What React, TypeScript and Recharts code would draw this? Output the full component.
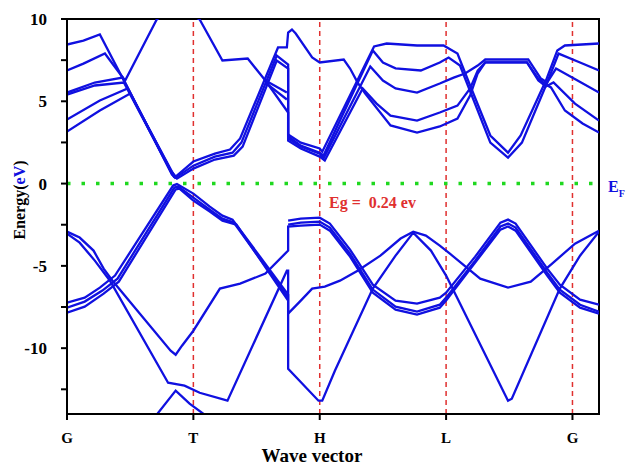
// Band structure along G-T-H-L-G, energy relative to the Fermi level

import React from 'react';
import { LineChart, Line, XAxis, YAxis, ReferenceLine, ReferenceArea } from 'recharts';

// ── data: [k, E(eV)] ──

const K_MAX = 4.21;
const E_MIN = -14;
const E_MAX = 10;

const kTicks = [0, 1, 2, 3, 4];
const kLabels = ['G', 'T', 'H', 'L', 'G'];
const eTicks = [-12.5, -10, -7.5, -5, -2.5, 0, 2.5, 5, 7.5, 10];
const symLines = [1, 2, 3, 4];

// conduction bands
const c1 = [[0, 8.45], [0.13, 8.69], [0.26, 9.06], [0.82, 0.79], [0.86, 0.43], [1.0, 1.34], [1.17, 1.82], [1.29, 2.07], [1.37, 2.74], [1.67, 8.27], [1.74, 8.27], [1.75, 9.18], [1.78, 9.36], [1.81, 9.12], [1.94, 7.66], [2.0, 7.36], [2.19, 7.54], [2.24, 6.99], [2.30, 6.14], [2.36, 5.47], [2.56, 3.53], [2.77, 3.10], [2.95, 3.47], [3.09, 3.95], [3.19, 5.35], [3.25, 6.69], [3.31, 7.36], [3.64, 7.36], [3.73, 6.38], [3.79, 6.02], [3.83, 5.84], [3.94, 4.44], [4.08, 3.65], [4.21, 3.10]];
const c2 = [[0, 6.87], [0.13, 7.29], [0.30, 7.90], [0.40, 6.87], [0.46, 6.26], [0.71, 9.97], [0.86, 10.82], [1.05, 9.97], [1.23, 7.48], [1.43, 7.60], [1.57, 6.26], [1.75, 4.32], [1.75, 2.86], [1.85, 2.31], [2.0, 1.88], [2.03, 1.70], [2.42, 8.09], [2.50, 7.36], [2.60, 7.0], [2.80, 6.87], [2.95, 7.36], [3.02, 7.66], [3.11, 7.17], [3.35, 2.49], [3.49, 1.58], [3.60, 2.49], [3.80, 6.14], [3.89, 7.90], [4.06, 7.36], [4.21, 6.87]];
const c3 = [[0, 5.53], [0.22, 6.14], [0.44, 6.44], [0.83, 0.55], [0.86, 0.36], [1.0, 1.09], [1.17, 1.64], [1.31, 1.88], [1.38, 2.49], [1.66, 7.78], [1.75, 7.23], [1.75, 2.74], [1.85, 2.25], [2.0, 1.82], [2.03, 1.52], [2.40, 7.11], [2.50, 6.26], [2.60, 5.78], [2.77, 5.53], [2.95, 6.08], [3.06, 6.44], [3.15, 6.69], [3.25, 7.17], [3.31, 7.54], [3.65, 7.54], [3.75, 6.38], [3.80, 6.14], [3.87, 6.99], [4.04, 6.26], [4.21, 5.53]];
const c4 = [[0, 5.41], [0.22, 5.96], [0.45, 6.14], [0.84, 0.49], [0.87, 0.30], [1.0, 0.91], [1.17, 1.46], [1.32, 1.70], [1.39, 2.25], [1.66, 7.48], [1.75, 6.99], [1.75, 2.61], [1.85, 2.13], [2.0, 1.64], [2.04, 1.40], [2.34, 5.78], [2.45, 4.86], [2.56, 4.13], [2.77, 3.83], [2.95, 4.32], [3.09, 4.74], [3.19, 5.78], [3.25, 6.87], [3.31, 7.36], [3.64, 7.36], [3.73, 6.26], [3.79, 5.90], [3.85, 6.14], [4.02, 4.86], [4.21, 3.83]];
const c5 = [[0, 3.89], [0.26, 5.05], [0.48, 5.78], [0.85, 0.36]];
const c6 = [[0, 3.16], [0.26, 4.44], [0.50, 5.47], [0.86, 0.30]];
const c7 = [[1.75, 2.98], [1.85, 2.49], [2.0, 2.13], [2.02, 1.94], [2.43, 8.33], [2.53, 8.51], [2.77, 8.39], [2.98, 8.39], [3.09, 7.90], [3.19, 5.96], [3.35, 2.92], [3.49, 1.88], [3.59, 2.92], [3.79, 6.26], [3.88, 8.09], [3.94, 8.39], [4.21, 8.51]];
const x1 = [[1.57, 6.26], [1.74, 5.53]];
const x2 = [[1.57, 6.14], [1.74, 5.11]];

// valence bands
const t1 = [[0, -7.23], [0.14, -6.93], [0.26, -6.32], [0.38, -5.59], [0.84, -0.12], [0.87, -0.03], [1.0, -0.61], [1.13, -1.40], [1.23, -1.95], [1.31, -2.19], [1.75, -6.75], [1.75, -7.90], [1.85, -7.11], [1.94, -6.38], [2.04, -6.26], [2.16, -5.90], [2.30, -5.29], [2.48, -4.38], [2.64, -3.34], [2.74, -2.92], [2.84, -3.16], [2.95, -3.77], [3.03, -4.26], [3.27, -5.78], [3.49, -6.32], [3.67, -5.96], [3.83, -4.92], [4.02, -3.65], [4.21, -2.86]];
const t2 = [[0, -7.54], [0.14, -7.17], [0.28, -6.50], [0.40, -5.78], [0.85, -0.24], [0.88, -0.18], [1.0, -0.85], [1.13, -1.58], [1.23, -2.13], [1.32, -2.37], [1.75, -6.93]];
const t3 = [[0, -7.84], [0.14, -7.48], [0.29, -6.69], [0.41, -5.96], [0.86, -0.36], [0.89, -0.30], [1.0, -1.03], [1.13, -1.70], [1.23, -2.25], [1.34, -2.49], [1.75, -7.11]];
const h2 = [[1.75, -2.25], [1.85, -2.13], [2.0, -2.07], [2.08, -2.43], [2.24, -4.01], [2.42, -6.14], [2.60, -7.11], [2.77, -7.29], [2.95, -6.93], [3.0, -6.63], [3.23, -4.44], [3.43, -2.37], [3.49, -2.19], [3.55, -2.43], [3.80, -5.17], [3.90, -6.14], [4.06, -7.05], [4.21, -7.36]];
const h3 = [[1.75, -2.49], [1.85, -2.37], [2.0, -2.31], [2.08, -2.67], [2.24, -4.26], [2.42, -6.44], [2.60, -7.48], [2.77, -7.78], [2.95, -7.36], [3.0, -6.93], [3.23, -4.68], [3.43, -2.61], [3.49, -2.43], [3.55, -2.67], [3.80, -5.41], [3.90, -6.44], [4.06, -7.36], [4.21, -7.78]];
const va = [[0, -2.92], [0.10, -3.28], [0.21, -4.07], [0.29, -5.17], [0.36, -5.90], [0.82, -10.15], [0.86, -10.40], [0.91, -9.85], [1.0, -8.94], [1.21, -6.38], [1.37, -6.08], [1.57, -5.47], [1.75, -4.07], [1.75, -2.61], [1.85, -2.55], [2.0, -2.49], [2.08, -2.86], [2.24, -4.44], [2.42, -6.63], [2.60, -7.66], [2.77, -7.96], [2.95, -7.54], [3.0, -7.11], [3.23, -4.80], [3.43, -2.80], [3.49, -2.61], [3.55, -2.86], [3.80, -5.59], [3.90, -6.63], [4.06, -7.54], [4.21, -7.90]];
const vb = [[0, -3.04], [0.10, -3.59], [0.22, -4.68], [0.34, -5.90], [0.80, -12.10], [0.93, -12.28], [1.05, -12.71], [1.27, -13.19], [1.74, -5.29], [1.75, -5.29], [1.75, -11.25], [1.99, -13.19], [2.02, -13.19], [2.12, -11.37], [2.42, -6.38], [2.60, -4.38], [2.74, -2.98], [2.88, -4.07], [3.0, -5.59], [3.11, -7.29], [3.49, -13.19], [3.52, -13.07], [3.90, -6.38], [4.06, -4.38], [4.21, -2.92]];
const vc = [[0.66, -14.6], [0.71, -14.04], [0.86, -12.58], [0.97, -13.37], [1.17, -14.5], [1.20, -14.8]];

const bands = [c1, c2, c3, c4, c5, c6, c7, x1, x2, t1, t2, t3, h2, h3, va, vb, vc];

// ── style ──

const FONT = '"Liberation Serif", "Times New Roman", serif';
const BLUE = '#1010e0';
const RED = '#e0302f';

const toRows = (b: number[][]) => b.map(([k, e]) => ({ k, e }));

export default function App(): React.JSX.Element {
  return (
    <div style={{ position: 'absolute', left: 0, top: 0, width: 627, height: 465, background: '#fff' }}>
      <LineChart width={627} height={465} margin={{ top: 19, right: 28, bottom: 21, left: 0 }}>
        <XAxis
          type="number"
          dataKey="k"
          domain={[0, K_MAX]}
          ticks={kTicks}
          interval={0}
          tickFormatter={(v: number) => kLabels[v] ?? ''}
          tick={{ fill: '#000', fontSize: 15, fontWeight: 'bold', fontFamily: FONT }}
          tickSize={6}
          tickMargin={12}
          axisLine={{ stroke: '#000', strokeWidth: 2 }}
          tickLine={{ stroke: '#000', strokeWidth: 2 }}
          height={30}
          allowDataOverflow
        />
        <YAxis
          type="number"
          domain={[E_MIN, E_MAX]}
          ticks={eTicks}
          interval={0}
          tickFormatter={(v: number) => (v % 5 === 0 ? String(v) : '')}
          tick={{ fill: '#000', fontSize: 17, fontWeight: 'bold', fontFamily: FONT }}
          tickSize={6}
          tickMargin={14}
          axisLine={{ stroke: '#000', strokeWidth: 2 }}
          tickLine={{ stroke: '#000', strokeWidth: 2 }}
          width={67}
          allowDataOverflow
        />
        {symLines.map((k) => (
          <ReferenceLine key={k} x={k} stroke={RED} strokeWidth={1.5} strokeDasharray="5 4" />
        ))}
        <ReferenceLine y={0} stroke="#1fd81f" strokeWidth={3.5} strokeDasharray="3.5 11" />
        {bands.map((b, i) => (
          <Line
            key={i}
            data={toRows(b)}
            dataKey="e"
            type="linear"
            stroke={BLUE}
            strokeWidth={2.3}
            dot={false}
            activeDot={false}
            isAnimationActive={false}
          />
        ))}
        <ReferenceArea x1={0} x2={K_MAX} y1={E_MIN} y2={E_MAX} fill="none" stroke="#000" strokeWidth={2} ifOverflow="visible" />
      </LineChart>

      {/* axis titles and annotations */}
      <div
        style={{
          position: 'absolute', left: 20, top: 200, transform: 'translate(-50%, -50%) rotate(-90deg)',
          fontFamily: FONT, fontWeight: 'bold', fontSize: 16, lineHeight: 1, whiteSpace: 'nowrap', color: '#000',
        }}
      >
        Energy(<span style={{ color: BLUE }}>eV</span>)
      </div>
      <div
        style={{
          position: 'absolute', left: 312, top: 455, transform: 'translate(-50%, -50%)',
          fontFamily: FONT, fontWeight: 'bold', fontSize: 19, lineHeight: 1, whiteSpace: 'nowrap', color: '#000',
        }}
      >
        Wave vector
      </div>
      <div
        style={{
          position: 'absolute', left: 329, top: 203, transform: 'translateY(-50%)',
          fontFamily: FONT, fontWeight: 'bold', fontSize: 16, lineHeight: 1, whiteSpace: 'pre', color: RED,
        }}
      >
        {'Eg =  0.24 ev'}
      </div>
      <div
        style={{
          position: 'absolute', left: 608, top: 189, transform: 'translateY(-50%)',
          fontFamily: FONT, fontWeight: 'bold', fontSize: 16, lineHeight: 1, whiteSpace: 'nowrap', color: BLUE,
        }}
      >
        E<sub style={{ fontSize: 10 }}>F</sub>
      </div>
    </div>
  );
}
